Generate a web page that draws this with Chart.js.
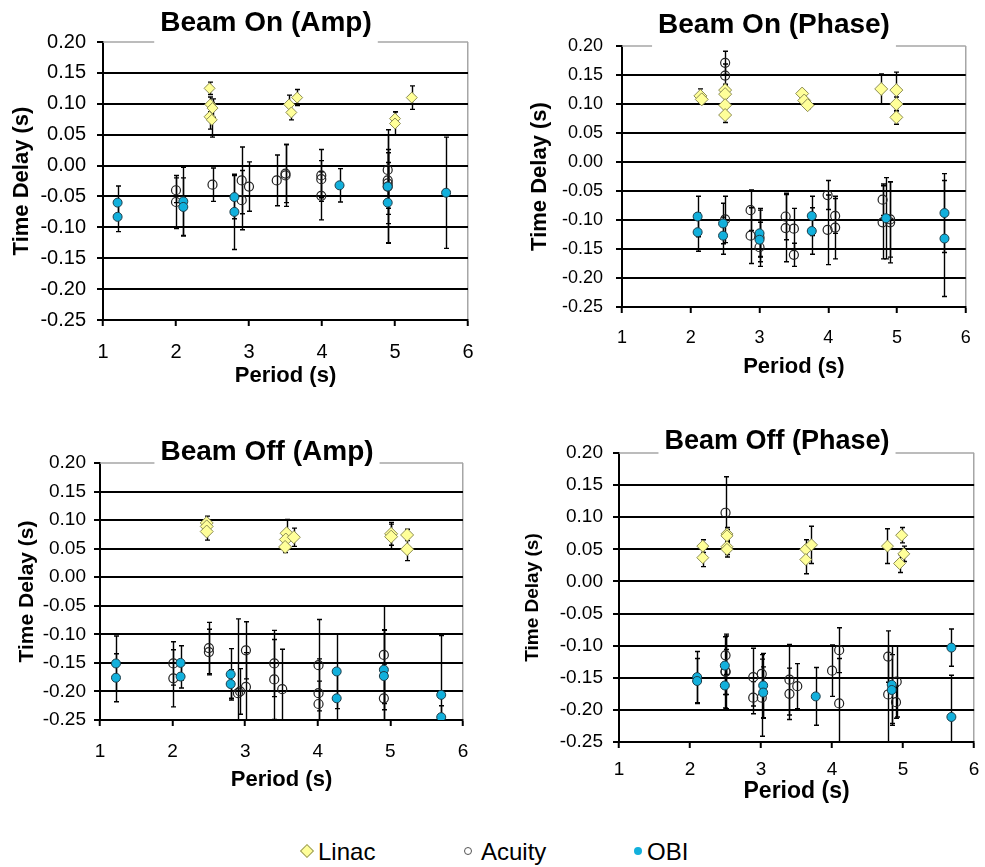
<!DOCTYPE html>
<html>
<head>
<meta charset="utf-8">
<script src="https://cdn.jsdelivr.net/npm/chart.js@4.4.1/dist/chart.umd.min.js"></script>
<style>
  html, body { margin: 0; padding: 0; background: #fff; overflow: hidden; }
  body { width: 985px; height: 867px; position: relative; font-family: "Liberation Sans", Arial, sans-serif; }
  canvas { position: absolute; }
  .item { position: absolute; top: 838px; line-height: 28px; font-size: 24px; color: #000; }
  .mk { position: absolute; }
  .diamond { width: 8px; height: 8px; background: #ffff99; border: 1px solid #99995c; transform: rotate(45deg); }
  .ring { width: 6px; height: 6px; border-radius: 50%; border: 1px solid #555; background: #fff; }
  .dot { width: 8px; height: 8px; border-radius: 50%; background: #12b0dc; }
</style>
</head>
<body>
<canvas id="onAmp"></canvas>
<canvas id="onPhase"></canvas>
<canvas id="offAmp"></canvas>
<canvas id="offPhase"></canvas>

<div class="mk diamond" style="left:302px; top:846px;"></div>
<div class="item" style="left:318px;">Linac</div>
<div class="mk ring" style="left:464px; top:847px;"></div>
<div class="item" style="left:481px;">Acuity</div>
<div class="mk dot" style="left:634px; top:847px;"></div>
<div class="item" style="left:647px;">OBI</div>

<script>
// [period, delay, error]
const onAmpLinac = [[2.46,0.125,0.010],[2.47,0.099,0.012],[2.50,0.093,0.015],[2.46,0.079,0.020],[2.49,0.074,0.028],
  [3.55,0.099,0.015],[3.58,0.086,0.012],[3.66,0.110,0.013],[5.00,0.076,0.011],[5.00,0.068,0.019],[5.23,0.110,0.019]];
const onAmpAcuity = [[2.00,-0.040,0.020],[2.00,-0.059,0.043],[2.50,-0.031,0.027],[2.90,-0.024,0.054],[2.90,-0.056,0.048],
  [3.00,-0.034,0.040],[3.38,-0.024,0.041],[3.50,-0.013,0.047],[3.50,-0.016,0.050],[3.99,-0.016,0.042],[3.99,-0.022,0.030],
  [3.99,-0.049,0.039],[4.90,-0.007,0.056],[4.90,-0.024,0.045],[4.90,-0.029,0.050],[4.90,-0.034,0.092]];
const onAmpObi = [[1.20,-0.060,0.027],[1.20,-0.083,0.024],[2.10,-0.058,0.055],[2.10,-0.067,0.047],[2.80,-0.051,0.035],
  [2.80,-0.075,0.061],[4.24,-0.032,0.027],[4.90,-0.034,0.060],[4.90,-0.060,0.065],[5.70,-0.044,0.090]];

const onPhaseLinac = [[2.14,0.114,0.012],[2.16,0.108,0.008],[2.50,0.124,0.010],[2.50,0.117,0.015],[2.50,0.098,0.012],
  [2.50,0.081,0.013],[3.62,0.118,0.006],[3.65,0.106,0.006],[3.70,0.098,0.006],[4.77,0.126,0.026],[4.99,0.124,0.031],
  [4.99,0.100,0.012],[4.99,0.077,0.012]];
const onPhaseAcuity = [[2.50,0.171,0.020],[2.50,0.149,0.020],[2.50,-0.099,0.040],[2.87,-0.083,0.035],[2.87,-0.127,0.048],
  [3.00,-0.147,0.025],[3.00,-0.130,0.050],[3.38,-0.094,0.040],[3.38,-0.114,0.058],[3.50,-0.115,0.035],[3.50,-0.160,0.020],
  [3.99,-0.057,0.025],[3.99,-0.117,0.060],[4.10,-0.093,0.030],[4.10,-0.113,0.054],[4.79,-0.065,0.027],[4.79,-0.104,0.063],
  [4.90,-0.099,0.065],[4.90,-0.104,0.070]];
const onPhaseObi = [[2.10,-0.094,0.035],[2.10,-0.121,0.033],[2.47,-0.106,0.035],[2.47,-0.127,0.032],[3.00,-0.123,0.040],
  [3.00,-0.134,0.030],[3.76,-0.093,0.034],[3.76,-0.119,0.040],[4.84,-0.097,0.070],[5.69,-0.088,0.068],[5.69,-0.132,0.100]];

const offAmpLinac = [[2.47,0.095,0.012],[2.47,0.089,0.010],[2.47,0.080,0.015],[3.57,0.077,0.024],[3.56,0.066,0.014],
  [3.55,0.053,0.010],[3.67,0.070,0.016],[5.01,0.076,0.020],[5.01,0.071,0.022],[5.23,0.074,0.010],[5.23,0.049,0.020]];
const offAmpAcuity = [[2.01,-0.151,0.038],[2.01,-0.177,0.050],[2.50,-0.124,0.045],[2.50,-0.131,0.040],[2.90,-0.203,0.130],
  [2.93,-0.200,0.040],[3.01,-0.128,0.050],[3.01,-0.192,0.060],[3.40,-0.151,0.058],[3.40,-0.179,0.070],[3.51,-0.196,0.070],
  [4.01,-0.154,0.080],[4.01,-0.203,0.060],[4.01,-0.222,0.040],[4.91,-0.136,0.085],[4.91,-0.212,0.060]];
const offAmpObi = [[1.22,-0.151,0.048],[1.22,-0.176,0.042],[2.11,-0.150,0.030],[2.11,-0.174,0.020],[2.80,-0.170,0.045],
  [2.80,-0.187,0.025],[4.26,-0.165,0.065],[4.26,-0.212,0.045],[4.91,-0.162,0.070],[4.91,-0.173,0.080],[5.70,-0.206,0.104],
  [5.70,-0.245,0.020]];

const offPhaseLinac = [[2.18,0.055,0.010],[2.18,0.037,0.014],[2.52,0.074,0.010],[2.52,0.071,0.010],[2.52,0.054,0.012],
  [2.52,0.050,0.012],[3.63,0.050,0.015],[3.63,0.034,0.022],[3.71,0.057,0.029],[4.78,0.055,0.027],[4.98,0.072,0.012],
  [5.01,0.043,0.012],[4.95,0.028,0.014]];
const offPhaseAcuity = [[2.50,0.107,0.056],[2.50,-0.115,0.030],[2.50,-0.141,0.035],[2.50,-0.140,0.058],[2.89,-0.149,0.045],
  [2.89,-0.181,0.025],[3.01,-0.144,0.030],[3.01,-0.181,0.060],[3.40,-0.153,0.055],[3.40,-0.175,0.040],[3.51,-0.163,0.035],
  [4.00,-0.139,0.040],[4.10,-0.107,0.035],[4.10,-0.190,0.070],[4.79,-0.117,0.040],[4.79,-0.176,0.075],[4.91,-0.156,0.055],
  [4.90,-0.188,0.025]];
const offPhaseObi = [[2.10,-0.149,0.040],[2.10,-0.155,0.035],[2.49,-0.131,0.045],[2.49,-0.162,0.035],[3.03,-0.162,0.050],
  [3.03,-0.173,0.040],[3.77,-0.179,0.045],[4.84,-0.161,0.060],[4.84,-0.169,0.055],[5.68,-0.103,0.029],[5.68,-0.211,0.065]];

const periodTicks = [1, 2, 3, 4, 5, 6];
const FONT = '"Liberation Sans", Arial, sans-serif';
Chart.defaults.font.family = FONT;
Chart.defaults.color = '#000';

// error bars drawn under the markers
const errorBars = {
  id: 'errorBars',
  beforeDatasetsDraw(chart) {
    const { ctx, chartArea: a, scales: { x, y } } = chart;
    ctx.save();
    ctx.beginPath();
    ctx.rect(a.left, a.top - 2, a.width, a.height + 2);
    ctx.clip();
    ctx.strokeStyle = '#000';
    ctx.lineWidth = 1.4;
    chart.data.datasets.forEach(ds => {
      ds.data.forEach((p, i) => {
        const e = ds.errors[i];
        const px = Math.round(x.getPixelForValue(p.x)) + 0.5;
        const t = y.getPixelForValue(p.y + e);
        const b = y.getPixelForValue(p.y - e);
        ctx.beginPath();
        ctx.moveTo(px, t); ctx.lineTo(px, b);
        ctx.moveTo(px - 2.5, t); ctx.lineTo(px + 2.5, t);
        ctx.moveTo(px - 2.5, b); ctx.lineTo(px + 2.5, b);
        ctx.stroke();
      });
    });
    ctx.restore();
  }
};

// panel title sitting in a gap of the grey top frame line
const panelTitle = {
  id: 'panelTitle',
  beforeDatasetsDraw(chart, args, opts) {
    const { ctx, chartArea: a } = chart;
    ctx.save();
    ctx.font = 'bold ' + opts.size + 'px ' + FONT;
    const w = ctx.measureText(opts.text).width;
    ctx.strokeStyle = '#a6a6a6';
    ctx.lineWidth = 1.5;
    ctx.beginPath();
    ctx.moveTo(a.left, a.top); ctx.lineTo(opts.cx - w / 2 - 6, a.top);
    ctx.moveTo(opts.cx + w / 2 + 6, a.top); ctx.lineTo(a.right, a.top);
    ctx.stroke();
    ctx.fillStyle = '#000';
    ctx.textAlign = 'center';
    ctx.textBaseline = 'middle';
    ctx.fillText(opts.text, opts.cx, opts.cy);
    ctx.restore();
  }
};

function toSet(label, pts, style) {
  return Object.assign({
    label: label,
    data: pts.map(p => ({ x: p[0], y: p[1] })),
    errors: pts.map(p => p[2]),
    showLine: false
  }, style);
}

function makePanel(id, p, linac, acuity, obi) {
  const cv = document.getElementById(id);
  cv.width = p.w; cv.height = p.h;
  cv.style.left = p.left + 'px'; cv.style.top = p.top + 'px';
  const xLh = p.xTitleSize * 1.2, yLh = p.yTitleSize * 1.2;
  const hx = p.xTitleY - p.b + xLh / 2;
  return new Chart(cv, {
    type: 'scatter',
    data: {
      datasets: [
        toSet('Linac', linac, { pointStyle: 'rectRot', pointRadius: p.dia, backgroundColor: '#ffff99', borderColor: '#8c8c55', borderWidth: 1, order: 2 }),
        toSet('Acuity', acuity, { pointStyle: 'circle', pointRadius: 4.5, backgroundColor: 'rgba(255,255,255,0)', borderColor: '#222', borderWidth: 1.2, order: 1 }),
        toSet('OBI', obi, { pointStyle: 'circle', pointRadius: 4.5, backgroundColor: '#12b0dc', borderColor: '#1c3c48', borderWidth: 1, order: 0 })
      ]
    },
    options: {
      responsive: false,
      animation: false,
      layout: { padding: { left: 0, top: p.t, right: p.w - p.r, bottom: p.h - p.b - hx } },
      plugins: {
        legend: { display: false },
        tooltip: { enabled: false },
        panelTitle: { text: p.title, cx: p.titleX, cy: p.titleY, size: p.titleSize }
      },
      scales: {
        x: {
          type: 'linear', min: periodTicks[0], max: periodTicks[periodTicks.length - 1],
          afterBuildTicks: s => { s.ticks = periodTicks.map(v => ({ value: v })); },
          ticks: { font: { size: p.tickSize }, padding: p.xTickPad, color: '#000' },
          grid: { color: c => (c.tick && c.tick.value === 6 ? '#a6a6a6' : 'rgba(0,0,0,0)'), tickColor: '#000', tickLength: 6, lineWidth: 1.5, tickWidth: 2 },
          border: { color: '#000', width: 2 },
          title: { display: true, text: 'Period (s)', font: { size: p.xTitleSize, weight: 'bold' }, color: '#000', padding: 0 },
          afterFit: s => { s.height = hx; }
        },
        y: {
          min: -0.25, max: 0.2,
          ticks: { stepSize: 0.05, font: { size: p.tickSize }, padding: p.yTickPad, color: '#000',
            callback: v => (Math.abs(v) < 1e-9 ? 0 : v).toFixed(2) },
          grid: { color: c => (c.tick && Math.abs(c.tick.value - 0.2) < 1e-6 ? 'rgba(0,0,0,0)' : '#000'), tickColor: '#000', tickLength: 6, lineWidth: 2 },
          border: { color: '#000', width: 2 },
          title: { display: true, text: 'Time Delay (s)', font: { size: p.yTitleSize, weight: 'bold' }, color: '#000',
            padding: { top: p.yTitleX - yLh / 2, bottom: 0 } },
          afterFit: s => { s.width = p.l; }
        }
      }
    },
    plugins: [errorBars, panelTitle]
  });
}

makePanel('onAmp', { left: 0, top: 0, w: 490, h: 420, l: 103, r: 468, t: 42, b: 320,
  title: 'Beam On (Amp)', titleX: 266, titleY: 23, titleSize: 28, dia: 5.5,
  tickSize: 20, xTickPad: 14, yTickPad: 11, xTitleY: 376, xTitleSize: 22, yTitleX: 22, yTitleSize: 22 },
  onAmpLinac, onAmpAcuity, onAmpObi);

makePanel('onPhase', { left: 490, top: 0, w: 495, h: 420, l: 132, r: 489, t: 46, b: 307,
  title: 'Beam On (Phase)', titleX: 284, titleY: 25, titleSize: 28, dia: 6.5,
  tickSize: 18, xTickPad: 14.2, yTickPad: 13, xTitleY: 367, xTitleSize: 22, yTitleX: 50, yTitleSize: 22 },
  onPhaseLinac, onPhaseAcuity, onPhaseObi);

makePanel('offAmp', { left: 0, top: 420, w: 490, h: 415, l: 100, r: 463, t: 43, b: 300,
  title: 'Beam Off (Amp)', titleX: 267, titleY: 32, titleSize: 28, dia: 6.5,
  tickSize: 19, xTickPad: 14.6, yTickPad: 8, xTitleY: 360, xTitleSize: 22, yTitleX: 27, yTitleSize: 21 },
  offAmpLinac, offAmpAcuity, offAmpObi);

makePanel('offPhase', { left: 490, top: 420, w: 500, h: 415, l: 129, r: 493, t: 33, b: 322,
  title: 'Beam Off (Phase)', titleX: 287, titleY: 22, titleSize: 27, dia: 6,
  tickSize: 19, xTickPad: 10.6, yTickPad: 10, xTitleY: 372, xTitleSize: 23, yTitleX: 43, yTitleSize: 19 },
  offPhaseLinac, offPhaseAcuity, offPhaseObi);
</script>
</body>
</html>
